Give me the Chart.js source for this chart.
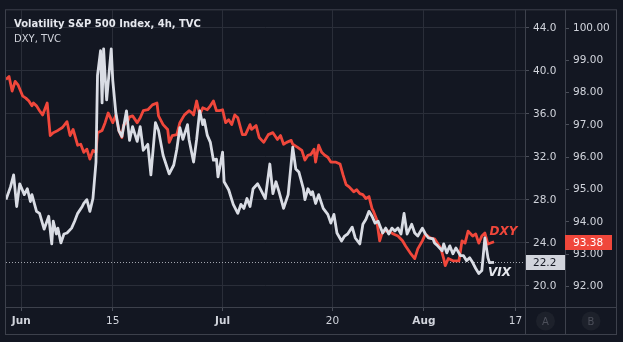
<!DOCTYPE html>
<html>
<head>
<meta charset="utf-8">
<script src="https://cdn.jsdelivr.net/npm/chart.js@4/dist/chart.umd.min.js"></script>
<style>
  html, body { margin: 0; padding: 0; background: #131722; }
  canvas { display: block; }
</style>
</head>
<body>
<canvas id="myChart" width="623" height="342"></canvas>
<script>
  // bar numbers are 4h bars counted from Jun 1 (6 bars per trading day, weekends skipped)
  const vixBars = [
    -10, -7, -5, -3, -1, 2, 4, 6, 7, 10,
    12, 15, 18, 20, 21, 23, 24, 26, 28, 30,
    33, 35, 37, 40, 41, 43, 45, 47, 49, 50,
    52, 53, 54, 55, 56, 59, 60, 62, 64, 66,
    69, 71, 73, 76, 78, 80, 83, 85, 88, 90,
    93, 97, 100, 102, 104, 106, 109, 110, 113, 115,
    117, 119, 120, 122, 124, 126, 128, 129, 132, 133,
    136, 139, 142, 144, 146, 148, 150, 152, 155, 157,
    160, 163, 165, 167, 169, 172, 175, 178, 180, 182,
    185, 186, 188, 190, 191, 193, 195, 198, 201, 203,
    205, 207, 210, 212, 214, 217, 219, 222, 224, 226,
    228, 230, 232, 234, 237, 239, 241, 243, 245, 247,
    249, 251, 253, 256, 258, 260, 263, 265, 267, 270,
    271, 273, 276, 277, 279, 281, 283, 285, 288, 290,
    292, 294, 296, 298, 300, 302, 304, 306, 307, 310
  ]
  const vixValues = [
    28.03, 29.23, 30.33, 27.39, 29.50, 28.49, 29.04, 27.85, 28.49, 26.94,
    26.75, 25.28, 26.48, 23.91, 26.02, 24.83, 25.38, 24.00, 24.83, 24.92,
    25.38, 26.02, 26.75, 27.39, 27.67, 28.03, 26.94, 28.13, 31.52, 39.59,
    41.88, 37.02, 42.06, 39.50, 37.30, 42.06, 39.13, 36.10, 34.45, 33.90,
    36.29, 33.54, 34.82, 33.45, 34.82, 32.62, 33.17, 30.33, 35.19, 34.45,
    32.16, 30.42, 31.25, 32.71, 34.73, 33.63, 35.00, 33.63, 31.52, 33.63,
    36.29, 35.00, 35.46, 34.00, 33.35, 31.70, 31.79, 30.14, 32.44, 29.69,
    28.95, 27.58, 26.75, 27.58, 27.21, 28.13, 27.39, 29.04, 29.50, 28.95,
    28.13, 31.34, 28.59, 29.69, 28.77, 27.21, 28.49, 32.90, 30.88, 30.60,
    29.04, 28.03, 29.04, 28.49, 28.77, 27.67, 28.49, 27.21, 26.66, 25.84,
    26.66, 24.92, 24.18, 24.64, 24.83, 25.47, 24.46, 23.91, 25.74, 26.20,
    26.94, 26.48, 25.84, 26.02, 24.92, 25.38, 24.83, 25.38, 25.10, 25.38,
    24.83, 26.75, 24.83, 25.74, 24.92, 24.64, 25.38, 24.83, 24.46, 24.37,
    24.00, 23.73, 23.27, 23.91, 23.08, 23.73, 22.99, 23.54, 22.81, 22.81,
    22.35, 22.63, 22.17, 21.62, 21.16, 21.43, 24.46, 22.63, 22.17, 22.20
  ]

  const dxyBars = [
    -10, -8, -6, -4, -2, 1, 3, 5, 7, 8,
    10, 12, 14, 17, 19, 21, 24, 27, 30, 32,
    34, 37, 39, 41, 43, 45, 47, 49, 50, 53,
    55, 57, 60, 62, 64, 66, 67, 70, 71, 73,
    76, 78, 80, 83, 86, 89, 90, 93, 96, 97,
    99, 102, 104, 107, 110, 112, 113, 115, 117, 119,
    122, 124, 126, 128, 130, 132, 134, 136, 138, 140,
    142, 145, 147, 150, 151, 154, 156, 159, 162, 165,
    168, 170, 172, 174, 177, 178, 181, 184, 186, 188,
    190, 192, 193, 195, 197, 199, 201, 203, 206, 209,
    211, 213, 215, 218, 220, 222, 224, 226, 228, 230,
    231, 233, 235, 237, 241, 244, 247, 250, 252, 255,
    258, 260, 263, 265, 268, 271, 275, 277, 278, 280,
    283, 287, 289, 291, 293, 296, 298, 300, 302, 304,
    306, 310
  ]
  const dxyValues = [
    98.41, 98.50, 98.05, 98.35, 98.23, 97.89, 97.83, 97.74, 97.59, 97.68,
    97.59, 97.44, 97.31, 97.68, 96.67, 96.76, 96.83, 96.92, 97.10, 96.67,
    96.86, 96.37, 96.40, 96.15, 96.25, 95.94, 96.21, 96.15, 96.76, 96.83,
    97.07, 97.37, 97.07, 97.31, 96.83, 96.61, 96.98, 97.13, 97.25, 97.28,
    97.07, 97.22, 97.44, 97.47, 97.62, 97.68, 97.28, 97.01, 96.86, 96.46,
    96.67, 96.70, 97.07, 97.31, 97.44, 97.37, 97.31, 97.74, 97.31, 97.53,
    97.47, 97.59, 97.74, 97.44, 97.44, 97.47, 97.07, 97.16, 97.01, 97.31,
    97.22, 96.70, 96.70, 97.01, 96.86, 96.98, 96.61, 96.46, 96.70, 96.76,
    96.55, 96.67, 96.40, 96.46, 96.52, 96.40, 96.31, 96.21, 95.91, 96.06,
    96.09, 96.25, 95.85, 96.37, 96.15, 96.06, 96.00, 95.85, 95.85, 95.79,
    95.45, 95.15, 95.08, 94.93, 94.99, 94.87, 94.84, 94.72, 94.78, 94.41,
    94.32, 94.08, 93.41, 93.71, 93.71, 93.62, 93.56, 93.41, 93.25, 93.04,
    92.86, 93.16, 93.41, 93.62, 93.50, 93.47, 93.19, 92.86, 92.64, 92.86,
    92.79, 92.79, 93.41, 93.34, 93.71, 93.56, 93.62, 93.34, 93.56, 93.65,
    93.31, 93.38
  ]

  const tickBars = [0, 60, 132, 204, 264, 324]
  const tickLabels = ['Jun', '15', 'Jul', '20', 'Aug', '17']
  const monthLabels = ['Jun', 'Jul', 'Aug']
  const vixTicks = [20, 24, 28, 32, 36, 40, 44]
  const dxyTicks = [92, 93, 94, 95, 96, 97, 98, 99, 100]

  const bg = '#131722'
  const gridColor = '#2a2e39'
  const frameColor = '#3d414c'
  const textColor = '#d1d4dc'
  const vixColor = '#d9dce4'
  const dxyColor = '#f0473b'
  const fontFamily = "'DejaVu Sans', sans-serif"

  Chart.defaults.font.family = fontFamily
  Chart.defaults.font.size = 10.5
  Chart.defaults.color = textColor

  const lastVix = vixValues[vixValues.length - 1]
  const lastDxy = dxyValues[dxyValues.length - 1]

  const tvPlugin = {
    id: 'tv',
    beforeDraw(chart) {
      const c = chart.ctx
      c.save()
      c.fillStyle = bg
      c.fillRect(0, 0, chart.width, chart.height)
      c.restore()
    },
    beforeDatasetsDraw(chart) {
      // dotted price line of the last VIX value
      const { ctx: c, chartArea: a, scales } = chart
      const y = Math.round(scales.yVix.getPixelForValue(lastVix)) + 0.5
      c.save()
      c.strokeStyle = '#a3a6af'
      c.lineWidth = 1
      c.setLineDash([1, 2])
      c.beginPath()
      c.moveTo(a.left, y)
      c.lineTo(a.right, y)
      c.stroke()
      c.restore()
    },
    afterDraw(chart) {
      const { ctx: c, chartArea: a, scales } = chart
      const xs = scales.x
      const yv = scales.yVix
      const yd = scales.yDxy
      c.save()

      // frame + separators
      c.strokeStyle = frameColor
      c.lineWidth = 1
      const L = a.left - 0.5, T = a.top - 0.5, R = yd.right + 0.5, B = xs.bottom + 0.5
      c.strokeRect(L, T, R - L, B - T)
      c.beginPath()
      c.moveTo(yv.left + 0.5, T); c.lineTo(yv.left + 0.5, B)
      c.moveTo(yd.left + 0.5, T); c.lineTo(yd.left + 0.5, B)
      c.moveTo(L, a.bottom + 0.5); c.lineTo(R, a.bottom + 0.5)
      c.stroke()

      // price tags
      c.font = '10.5px ' + fontFamily
      c.textBaseline = 'middle'
      c.textAlign = 'left'
      let py = Math.round(yv.getPixelForValue(lastVix))
      c.fillStyle = '#d1d4dc'
      c.fillRect(yv.left + 1, py - 7, yv.right - yv.left - 1, 15)
      c.fillStyle = bg
      c.fillText(lastVix.toFixed(1), yv.left + 8, py + 1)

      py = Math.round(yd.getPixelForValue(lastDxy))
      c.fillStyle = dxyColor
      c.fillRect(yd.left, py - 7, 47, 15)
      c.fillStyle = '#ffffff'
      c.fillText(lastDxy.toFixed(2), yd.left + 8, py + 1)

      // series names next to the lines
      c.font = 'italic bold 12px ' + fontFamily
      c.fillStyle = dxyColor
      c.fillText('DXY', xs.getPixelForValue(307), yd.getPixelForValue(93.68))
      c.fillStyle = '#e6e8ee'
      c.fillText('VIX', xs.getPixelForValue(306), yv.getPixelForValue(21.25))

      // legend
      c.textBaseline = 'alphabetic'
      c.font = 'bold 10px ' + fontFamily
      c.fillStyle = '#e6e8ee'
      c.fillText('Volatility S&P 500 Index, 4h, TVC', 14, 27)
      c.font = '10px ' + fontFamily
      c.fillStyle = textColor
      c.fillText('DXY, TVC', 14, 42)

      // scale badges
      const cy = (xs.top + xs.bottom) / 2 + 0.5
      const badges = [['A', (yv.left + yv.right) / 2 + 0.5], ['B', (yd.left + yd.right) / 2 + 0.5]]
      badges.forEach(([t, cx]) => {
        c.fillStyle = '#1d212b'
        c.beginPath()
        c.arc(cx, cy, 9.5, 0, Math.PI * 2)
        c.fill()
        c.fillStyle = '#4c4f5a'
        c.font = '10px ' + fontFamily
        c.textAlign = 'center'
        c.textBaseline = 'middle'
        c.fillText(t, cx, cy + 1)
      })
      c.restore()
    }
  }

  const tickFont = c => {
    const lbl = c && c.tick ? tickLabels[tickBars.indexOf(c.tick.value)] : ''
    return { family: fontFamily, size: 10.5, weight: monthLabels.includes(lbl) ? 'bold' : 'normal' }
  }

  const ctx = document.getElementById('myChart')
  // eslint-disable-next-line no-unused-vars
  const myChart = new Chart(ctx, {
    type: 'line',
    data: {
      datasets: [{
        label: 'VIX',
        data: vixBars.map((b, i) => ({ x: b, y: vixValues[i] })),
        yAxisID: 'yVix',
        borderColor: vixColor,
        borderWidth: 2.8,
        pointRadius: 0,
        tension: 0,
        borderJoinStyle: 'round'
      }, {
        label: 'DXY',
        data: dxyBars.map((b, i) => ({ x: b, y: dxyValues[i] })),
        yAxisID: 'yDxy',
        borderColor: dxyColor,
        borderWidth: 2.8,
        pointRadius: 0,
        tension: 0,
        borderJoinStyle: 'round'
      }]
    },
    options: {
      responsive: false,
      animation: false,
      events: [],
      layout: { padding: { left: 6, top: 6, right: 7, bottom: 8 } },
      scales: {
        x: {
          type: 'linear',
          min: -10,
          max: 330.3,
          afterBuildTicks: s => { s.ticks = tickBars.map(v => ({ value: v })) },
          afterFit: s => { s.height = 27 },
          border: { display: false },
          grid: { color: gridColor, tickColor: '#4a4e59', tickLength: 4 },
          ticks: {
            autoSkip: false,
            maxRotation: 0,
            padding: 4,
            color: textColor,
            font: tickFont,
            callback: v => tickLabels[tickBars.indexOf(v)]
          }
        },
        yVix: {
          position: 'right',
          weight: 0,
          min: 18.04,
          max: 45.64,
          afterBuildTicks: s => { s.ticks = vixTicks.map(v => ({ value: v })) },
          afterFit: s => { s.width = 40 },
          border: { display: false },
          grid: { color: gridColor, tickColor: '#4a4e59', tickLength: 4 },
          ticks: { padding: 4, color: textColor, callback: v => v.toFixed(1) }
        },
        yDxy: {
          position: 'right',
          weight: 1,
          min: 91.36,
          max: 100.55,
          afterBuildTicks: s => { s.ticks = dxyTicks.map(v => ({ value: v })) },
          afterFit: s => { s.width = 51 },
          border: { display: false },
          grid: { drawOnChartArea: false, tickColor: '#4a4e59', tickLength: 4 },
          ticks: { padding: 4, color: textColor, callback: v => v.toFixed(2) }
        }
      },
      plugins: {
        legend: { display: false },
        tooltip: { enabled: false }
      }
    },
    plugins: [tvPlugin]
  })
</script>
</body>
</html>
